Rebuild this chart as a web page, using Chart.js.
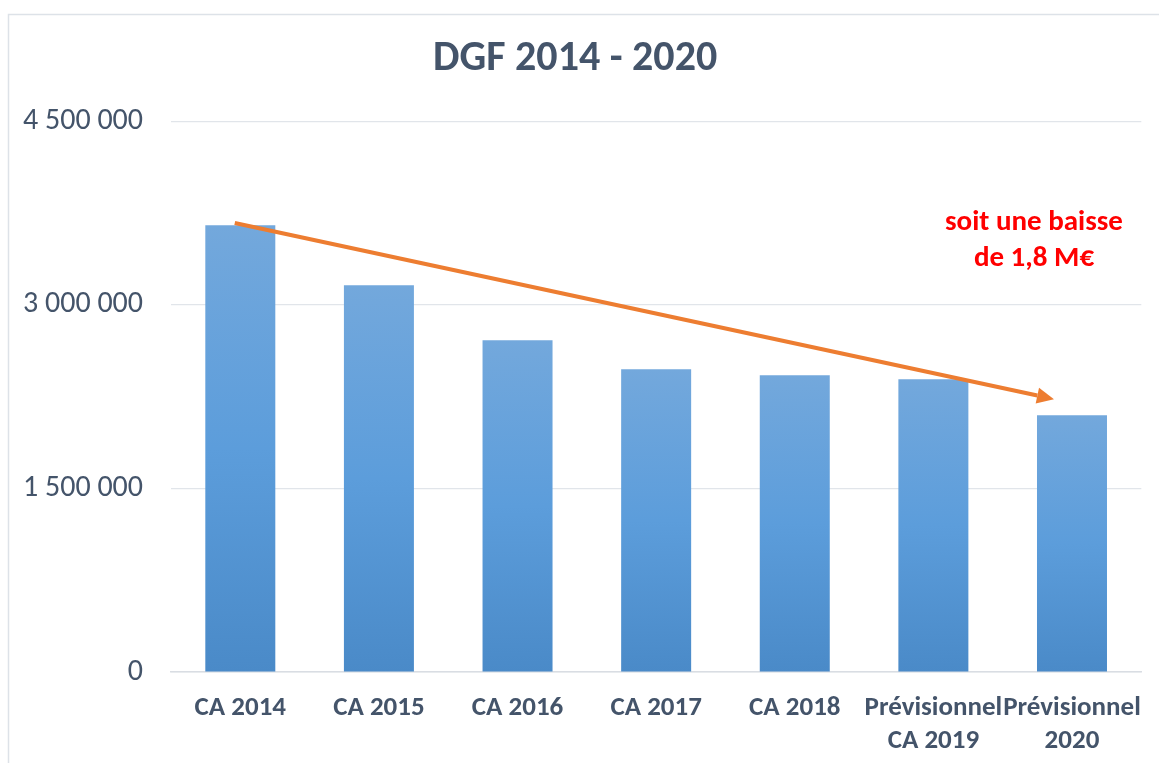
<!DOCTYPE html>
<html>
<head>
<meta charset="utf-8">
<script src="https://cdn.jsdelivr.net/npm/chart.js@4.4.1/dist/chart.umd.min.js"></script>
<style>
  html, body { margin: 0; padding: 0; background: #ffffff; }
  #wrap { position: relative; width: 1159px; height: 763px; }
  canvas { display: block; }
</style>
</head>
<body>
<div id="wrap"><canvas id="c" width="1159" height="763"></canvas></div>
<script>
// ---- data ----
const categories = [["CA 2014"], ["CA 2015"], ["CA 2016"], ["CA 2017"], ["CA 2018"], ["Prévisionnel", "CA 2019"], ["Prévisionnel", "2020"]];
const dgfValues = [3651000, 3161000, 2712000, 2475000, 2426000, 2393000, 2099000];
const yTicks = [0, 1500000, 3000000, 4500000];
const chartTitle = "DGF 2014 - 2020";
const noteLines = ["soit une baisse", "de 1,8 M€"];
// trend arrow endpoints (category index, value)
const trendStart = [-0.04, 3670000];
const trendEnd = [5.87, 2230000];

const FONT = "Carlito, Lato, sans-serif";
const TEXT = "#44546A";

function fmt(v) { return String(v).replace(/\B(?=(\d{3})+(?!\d))/g, " "); }

const framePlugin = {
  id: 'frame',
  beforeDraw(chart) {
    const ctx = chart.ctx;
    ctx.save();
    ctx.strokeStyle = '#DDE2E8';
    ctx.lineWidth = 1.5;
    ctx.beginPath();
    ctx.moveTo(8.5, chart.height);
    ctx.lineTo(8.5, 14.5);
    ctx.lineTo(chart.width, 14.5);
    ctx.stroke();
    ctx.restore();
  }
};

const arrowPlugin = {
  id: 'trendArrow',
  afterDatasetsDraw(chart) {
    const {ctx, scales: {x, y}} = chart;
    const x1 = x.getPixelForValue(trendStart[0]), y1 = y.getPixelForValue(trendStart[1]);
    const x2 = x.getPixelForValue(trendEnd[0]), y2 = y.getPixelForValue(trendEnd[1]);
    const ang = Math.atan2(y2 - y1, x2 - x1);
    const headLen = 17, headHalf = 8;
    const bx = x2 - headLen * Math.cos(ang), by = y2 - headLen * Math.sin(ang);
    ctx.save();
    ctx.strokeStyle = '#ED7D31';
    ctx.fillStyle = '#ED7D31';
    ctx.lineWidth = 4;
    ctx.beginPath();
    ctx.moveTo(x1, y1);
    ctx.lineTo(bx, by);
    ctx.stroke();
    ctx.beginPath();
    ctx.moveTo(x2, y2);
    ctx.lineTo(bx + headHalf * Math.sin(ang), by - headHalf * Math.cos(ang));
    ctx.lineTo(bx - headHalf * Math.sin(ang), by + headHalf * Math.cos(ang));
    ctx.closePath();
    ctx.fill();
    // note text
    const cx = x.getPixelForValue(categories.length - 1) - 38;
    const top = y.getPixelForValue(yTicks[yTicks.length - 1]);
    ctx.fillStyle = '#FF0000';
    ctx.font = "bold 29px " + FONT;
    ctx.textAlign = 'center';
    ctx.textBaseline = 'middle';
    noteLines.forEach((t, i) => ctx.fillText(t, cx, top + 101 + i * 36));
    ctx.restore();
  }
};

const ctx = document.getElementById('c').getContext('2d');
new Chart(ctx, {
  type: 'bar',
  data: {
    labels: categories,
    datasets: [{
      data: dgfValues,
      backgroundColor: (c) => {
        const chart = c.chart;
        const ys = chart.scales && chart.scales.y;
        if (!ys || !chart.chartArea || c.raw === undefined) return '#5B9BD5';
        const top = ys.getPixelForValue(c.raw), bot = ys.getPixelForValue(0);
        const g = chart.ctx.createLinearGradient(0, top, 0, bot);
        g.addColorStop(0, '#73A8DC');
        g.addColorStop(0.5, '#5C9DDB');
        g.addColorStop(1, '#4A8AC8');
        return g;
      },
      borderWidth: 0,
      barPercentage: 0.505,
      categoryPercentage: 1.0
    }]
  },
  options: {
    responsive: false,
    animation: false,
    devicePixelRatio: 1,
    layout: { padding: { left: 9, right: 17.7, top: 14, bottom: 0 } },
    plugins: {
      legend: { display: false },
      tooltip: { enabled: false },
      title: {
        display: true,
        text: chartTitle,
        color: TEXT,
        font: { family: FONT, size: 42, weight: 'bold', lineHeight: 1.2 },
        padding: { top: 20, bottom: 37 }
      }
    },
    scales: {
      x: {
        grid: { display: false, drawTicks: false },
        border: { display: true, color: '#D9DDE3', width: 1.5 },
        ticks: {
          color: TEXT,
          font: { family: FONT, size: 27, weight: 'bold', lineHeight: 1.22 },
          padding: 20,
          maxRotation: 0,
          autoSkip: false
        },
        afterFit(s) { s.height = 763 - 672; s.paddingRight = 0; s.paddingLeft = 0; }
      },
      y: {
        min: 0,
        max: 4500000,
        afterBuildTicks(s) { s.ticks = yTicks.map(v => ({ value: v })); },
        grid: { color: '#E1E5EA', lineWidth: 1.2, drawTicks: false },
        border: { display: false },
        ticks: {
          color: TEXT,
          font: { family: FONT, size: 30 },
          padding: 28,
          callback: (v) => fmt(v)
        },
        afterFit(s) { s.width = 171 - 9; }
      }
    }
  },
  plugins: [framePlugin, arrowPlugin]
});
</script>
</body>
</html>
